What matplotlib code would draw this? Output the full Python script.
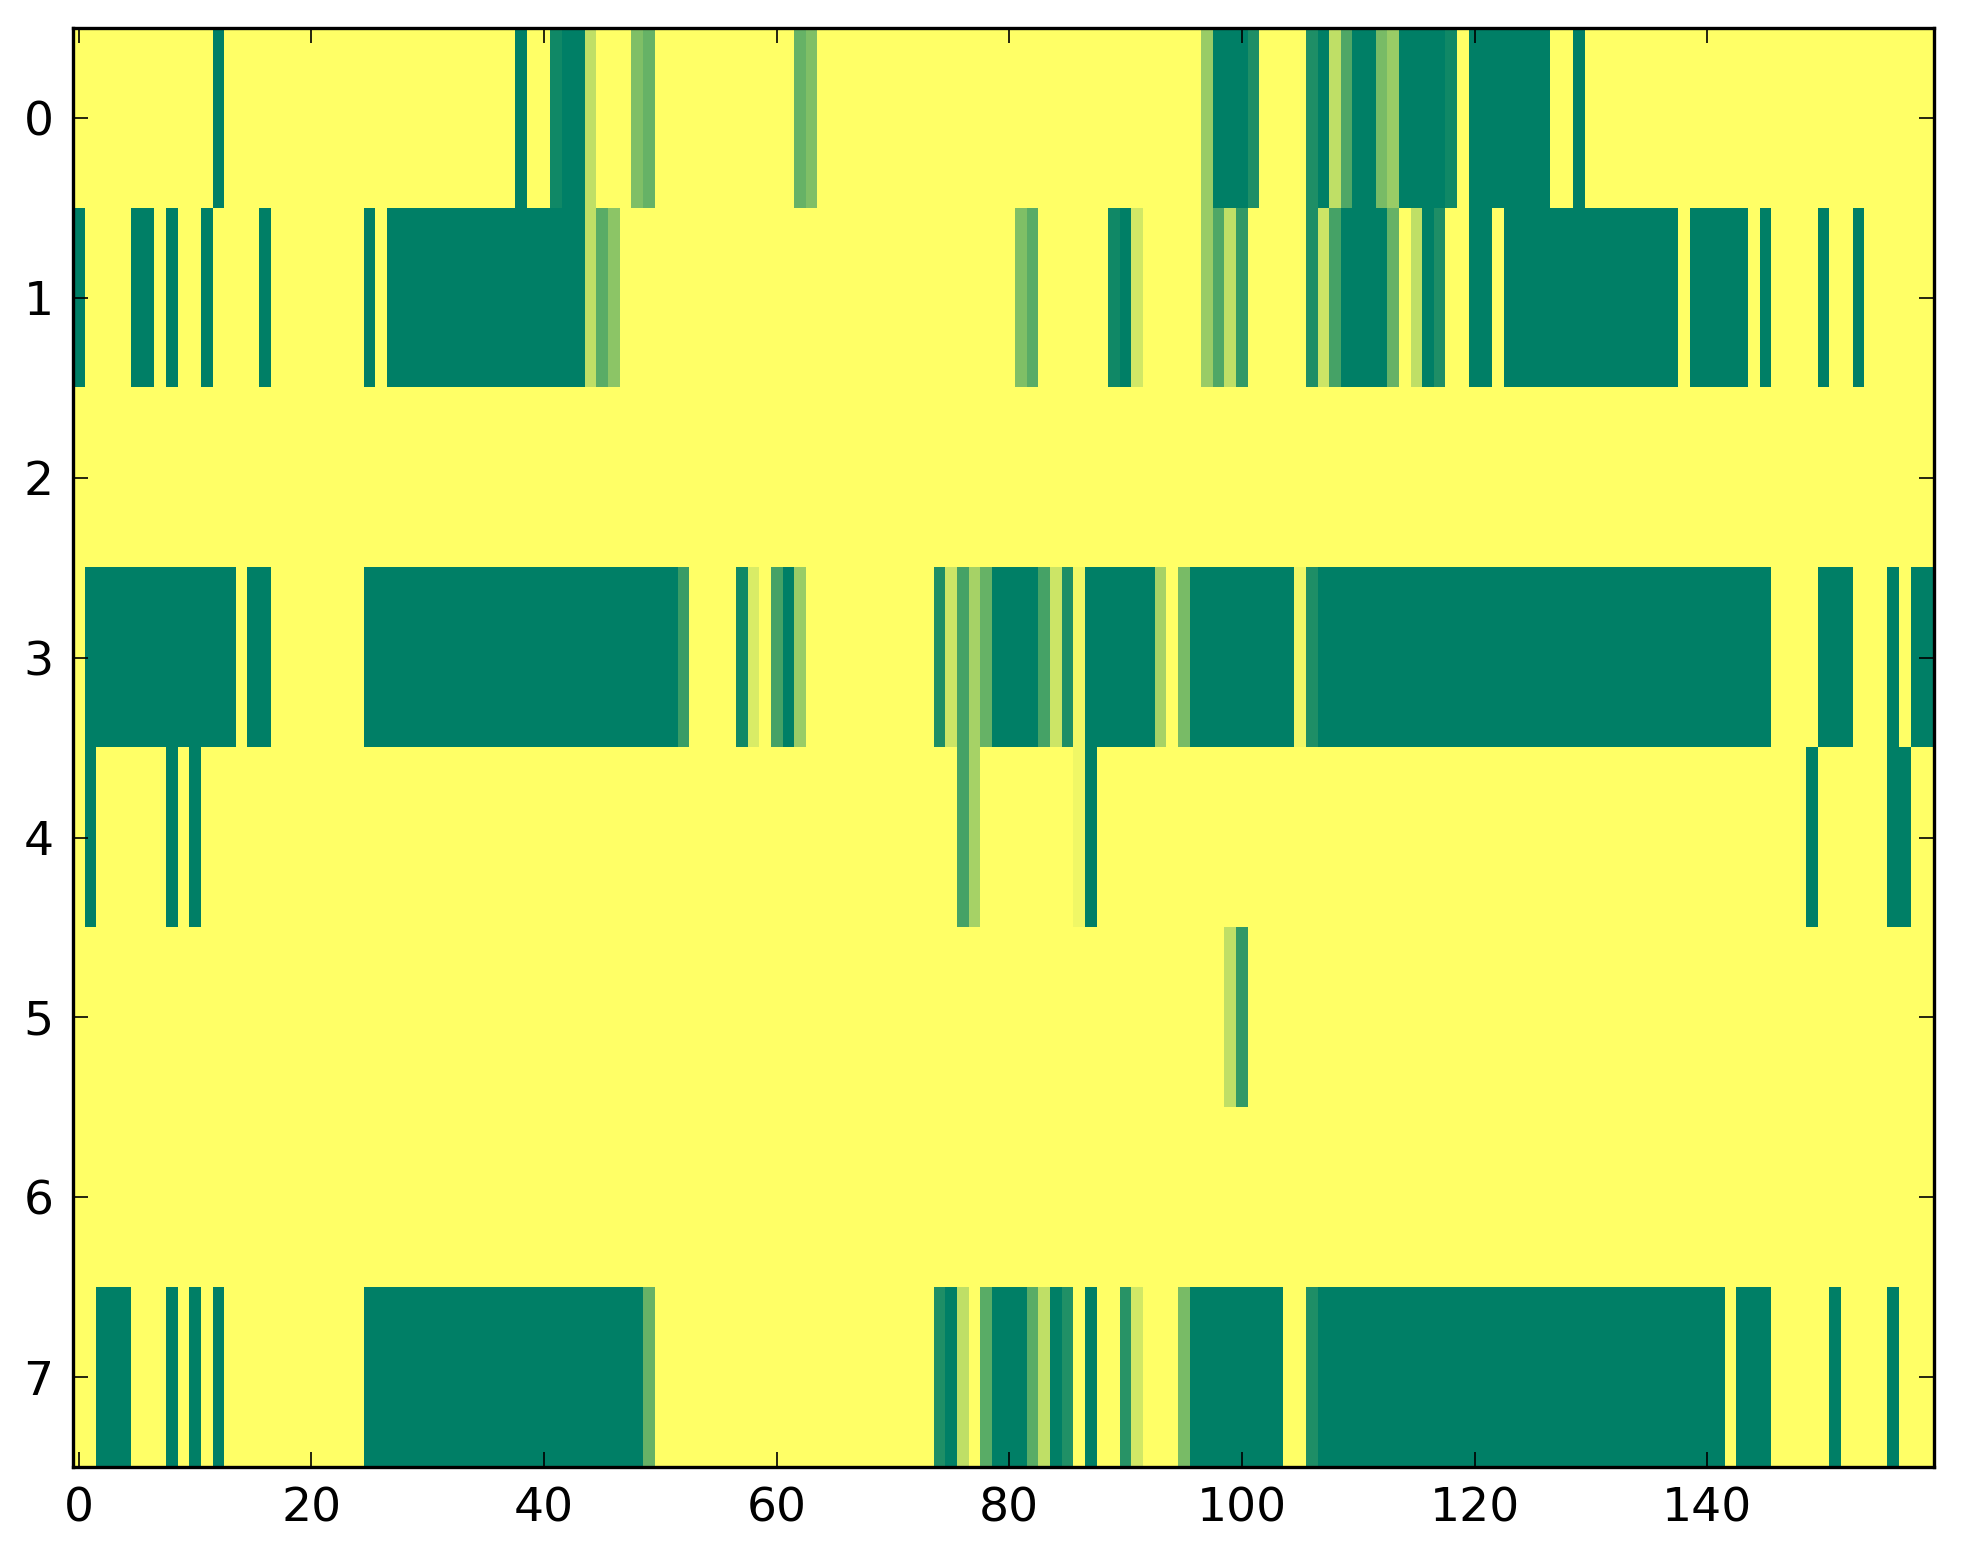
import matplotlib
matplotlib.use("Agg")
import matplotlib.pyplot as plt
import numpy as np

# one list per row of the matrix, 160 columns each
row0 = [0, 0, 0, 0, 0, 0, 0, 0, 0, 0, 0, 0, 1, 0, 0, 0, 0, 0, 0, 0,
        0, 0, 0, 0, 0, 0, 0, 0, 0, 0, 0, 0, 0, 0, 0, 0, 0, 0, 1, 0,
        0, .93, 1, 1, .25, 0, 0, 0, .5, .6, 0, 0, 0, 0, 0, 0, 0, 0, 0, 0,
        0, 0, .6, .5, 0, 0, 0, 0, 0, 0, 0, 0, 0, 0, 0, 0, 0, 0, 0, 0,
        0, 0, 0, 0, 0, 0, 0, 0, 0, 0, 0, 0, 0, 0, 0, 0, 0, .4, 1, 1,
        1, .88, 0, 0, 0, 0, .88, 1, .25, .69, 1, 1, .53, .4, 1, 1, 1, 1, .93, 0,
        1, 1, 1, 1, 1, 1, 1, 0, 0, 1, 0, 0, 0, 0, 0, 0, 0, 0, 0, 0,
        0, 0, 0, 0, 0, 0, 0, 0, 0, 0, 0, 0, 0, 0, 0, 0, 0, 0, 0, 0]

row1 = [1, 0, 0, 0, 0, 1, 1, 0, 1, 0, 0, 1, 0, 0, 0, 0, 1, 0, 0, 0,
        0, 0, 0, 0, 0, 1, 0, 1, 1, 1, 1, 1, 1, 1, 1, 1, 1, 1, 1, 1,
        1, 1, 1, 1, .25, .65, .45, 0, 0, 0, 0, 0, 0, 0, 0, 0, 0, 0, 0, 0,
        0, 0, 0, 0, 0, 0, 0, 0, 0, 0, 0, 0, 0, 0, 0, 0, 0, 0, 0, 0,
        0, .5, .65, 0, 0, 0, 0, 0, 0, .93, 1, .18, 0, 0, 0, 0, 0, .4, .69, .25,
        .8, 0, 0, 0, 0, 0, .88, .2, .73, 1, 1, 1, 1, .6, 0, .25, 1, .88, 0, 0,
        1, 1, 0, 1, 1, 1, 1, 1, 1, 1, 1, 1, 1, 1, 1, 1, 1, 1, 0, 1,
        1, 1, 1, 1, 0, 1, 0, 0, 0, 0, 1, 0, 0, 1, 0, 0, 0, 0, 0, 0]

row2 = [0, 0, 0, 0, 0, 0, 0, 0, 0, 0, 0, 0, 0, 0, 0, 0, 0, 0, 0, 0,
        0, 0, 0, 0, 0, 0, 0, 0, 0, 0, 0, 0, 0, 0, 0, 0, 0, 0, 0, 0,
        0, 0, 0, 0, 0, 0, 0, 0, 0, 0, 0, 0, 0, 0, 0, 0, 0, 0, 0, 0,
        0, 0, 0, 0, 0, 0, 0, 0, 0, 0, 0, 0, 0, 0, 0, 0, 0, 0, 0, 0,
        0, 0, 0, 0, 0, 0, 0, 0, 0, 0, 0, 0, 0, 0, 0, 0, 0, 0, 0, 0,
        0, 0, 0, 0, 0, 0, 0, 0, 0, 0, 0, 0, 0, 0, 0, 0, 0, 0, 0, 0,
        0, 0, 0, 0, 0, 0, 0, 0, 0, 0, 0, 0, 0, 0, 0, 0, 0, 0, 0, 0,
        0, 0, 0, 0, 0, 0, 0, 0, 0, 0, 0, 0, 0, 0, 0, 0, 0, 0, 0, 0]

row3 = [0, 1, 1, 1, 1, 1, 1, 1, 1, 1, 1, 1, 1, 1, 0, 1, 1, 0, 0, 0,
        0, 0, 0, 0, 0, 1, 1, 1, 1, 1, 1, 1, 1, 1, 1, 1, 1, 1, 1, 1,
        1, 1, 1, 1, 1, 1, 1, 1, 1, 1, 1, 1, .77, 0, 0, 0, 0, .93, .15, 0,
        .73, 1, .4, 0, 0, 0, 0, 0, 0, 0, 0, 0, 0, 0, .88, .2, .73, .35, .6, 1,
        1, 1, 1, .73, .2, .88, .06, 1, 1, 1, 1, 1, 1, .35, 0, .53, 1, 1, 1, 1,
        1, 1, 1, 1, 1, .06, .88, 1, 1, 1, 1, 1, 1, 1, 1, 1, 1, 1, 1, 1,
        1, 1, 1, 1, 1, 1, 1, 1, 1, 1, 1, 1, 1, 1, 1, 1, 1, 1, 1, 1,
        1, 1, 1, 1, 1, 1, 0, 0, 0, 0, 1, 1, 1, 0, 0, 0, 1, 0, 1, 1]

row4 = [0, 1, 0, 0, 0, 0, 0, 0, 1, 0, 1, 0, 0, 0, 0, 0, 0, 0, 0, 0,
        0, 0, 0, 0, 0, 0, 0, 0, 0, 0, 0, 0, 0, 0, 0, 0, 0, 0, 0, 0,
        0, 0, 0, 0, 0, 0, 0, 0, 0, 0, 0, 0, 0, 0, 0, 0, 0, 0, 0, 0,
        0, 0, 0, 0, 0, 0, 0, 0, 0, 0, 0, 0, 0, 0, 0, 0, .73, .35, 0, 0,
        0, 0, 0, 0, 0, 0, .06, 1, 0, 0, 0, 0, 0, 0, 0, 0, 0, 0, 0, 0,
        0, 0, 0, 0, 0, 0, 0, 0, 0, 0, 0, 0, 0, 0, 0, 0, 0, 0, 0, 0,
        0, 0, 0, 0, 0, 0, 0, 0, 0, 0, 0, 0, 0, 0, 0, 0, 0, 0, 0, 0,
        0, 0, 0, 0, 0, 0, 0, 0, 0, 1, 0, 0, 0, 0, 0, 0, 1, 1, 0, 0]

row5 = [0, 0, 0, 0, 0, 0, 0, 0, 0, 0, 0, 0, 0, 0, 0, 0, 0, 0, 0, 0,
        0, 0, 0, 0, 0, 0, 0, 0, 0, 0, 0, 0, 0, 0, 0, 0, 0, 0, 0, 0,
        0, 0, 0, 0, 0, 0, 0, 0, 0, 0, 0, 0, 0, 0, 0, 0, 0, 0, 0, 0,
        0, 0, 0, 0, 0, 0, 0, 0, 0, 0, 0, 0, 0, 0, 0, 0, 0, 0, 0, 0,
        0, 0, 0, 0, 0, 0, 0, 0, 0, 0, 0, 0, 0, 0, 0, 0, 0, 0, 0, .25,
        .8, 0, 0, 0, 0, 0, 0, 0, 0, 0, 0, 0, 0, 0, 0, 0, 0, 0, 0, 0,
        0, 0, 0, 0, 0, 0, 0, 0, 0, 0, 0, 0, 0, 0, 0, 0, 0, 0, 0, 0,
        0, 0, 0, 0, 0, 0, 0, 0, 0, 0, 0, 0, 0, 0, 0, 0, 0, 0, 0, 0]

row6 = [0, 0, 0, 0, 0, 0, 0, 0, 0, 0, 0, 0, 0, 0, 0, 0, 0, 0, 0, 0,
        0, 0, 0, 0, 0, 0, 0, 0, 0, 0, 0, 0, 0, 0, 0, 0, 0, 0, 0, 0,
        0, 0, 0, 0, 0, 0, 0, 0, 0, 0, 0, 0, 0, 0, 0, 0, 0, 0, 0, 0,
        0, 0, 0, 0, 0, 0, 0, 0, 0, 0, 0, 0, 0, 0, 0, 0, 0, 0, 0, 0,
        0, 0, 0, 0, 0, 0, 0, 0, 0, 0, 0, 0, 0, 0, 0, 0, 0, 0, 0, 0,
        0, 0, 0, 0, 0, 0, 0, 0, 0, 0, 0, 0, 0, 0, 0, 0, 0, 0, 0, 0,
        0, 0, 0, 0, 0, 0, 0, 0, 0, 0, 0, 0, 0, 0, 0, 0, 0, 0, 0, 0,
        0, 0, 0, 0, 0, 0, 0, 0, 0, 0, 0, 0, 0, 0, 0, 0, 0, 0, 0, 0]

row7 = [0, 0, 1, 1, 1, 0, 0, 0, 1, 0, 1, 0, 1, 0, 0, 0, 0, 0, 0, 0,
        0, 0, 0, 0, 0, 1, 1, 1, 1, 1, 1, 1, 1, 1, 1, 1, 1, 1, 1, 1,
        1, 1, 1, 1, 1, 1, 1, 1, 1, .6, 0, 0, 0, 0, 0, 0, 0, 0, 0, 0,
        0, 0, 0, 0, 0, 0, 0, 0, 0, 0, 0, 0, 0, 0, .88, 1, .25, 0, .65, 1,
        1, 1, .65, .25, 1, .87, 0, 1, 0, 0, .84, .18, 0, 0, 0, .53, 1, 1, 1, 1,
        1, 1, 1, 1, 0, 0, .88, 1, 1, 1, 1, 1, 1, 1, 1, 1, 1, 1, 1, 1,
        1, 1, 1, 1, 1, 1, 1, 1, 1, 1, 1, 1, 1, 1, 1, 1, 1, 1, 1, 1,
        1, 1, 0, 1, 1, 1, 0, 0, 0, 0, 0, 1, 0, 0, 0, 0, 1, 0, 0, 0]

xticks = [0, 20, 40, 60, 80, 100, 120, 140]
yticks = [0, 1, 2, 3, 4, 5, 6, 7]

data = np.array([row0, row1, row2, row3, row4, row5, row6, row7], dtype=float)

fig = plt.figure(figsize=(9.815, 7.82), dpi=200)
ax = fig.add_axes([0.0372, 0.062, 0.9480, 0.920])
ax.imshow(data, cmap="summer_r", vmin=0, vmax=1, aspect="auto", interpolation="nearest")

ax.set_xticks(xticks)
ax.set_yticks(yticks)
ax.tick_params(direction="in", top=True, right=True, length=5.5, width=0.6,
               labelsize=17, pad=7)
for s in ax.spines.values():
    s.set_linewidth(1.2)

fig.savefig("out.png", dpi=200, facecolor="white")
